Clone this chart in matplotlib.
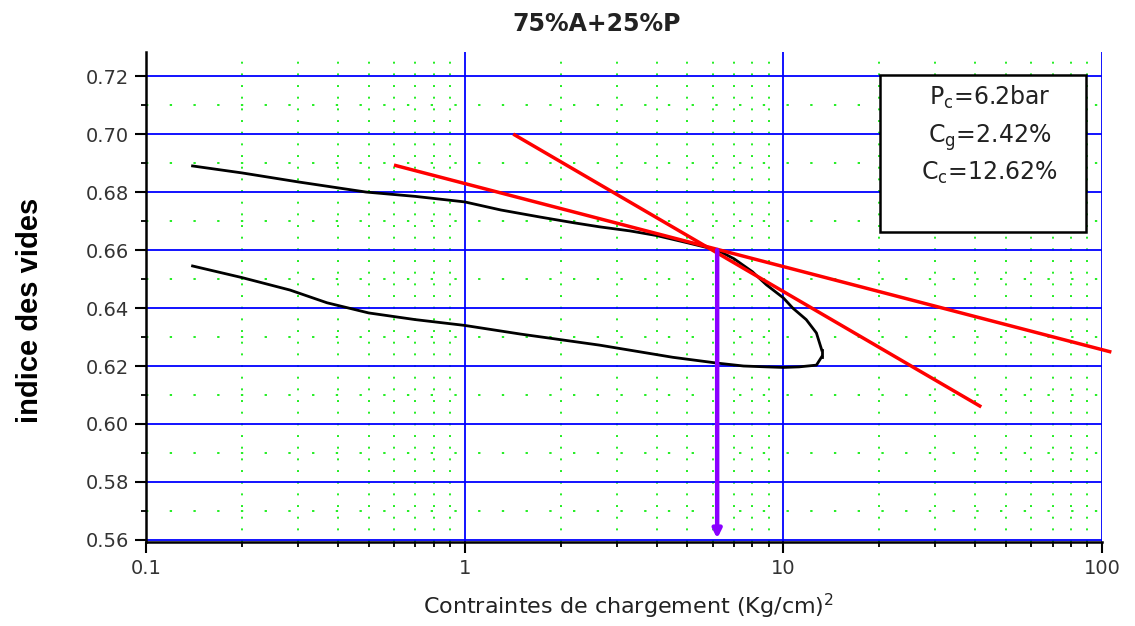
import numpy as np
import matplotlib
matplotlib.use("Agg")
import matplotlib.pyplot as plt
from matplotlib.ticker import LogLocator, FixedLocator, NullFormatter
from matplotlib.patches import Rectangle

# ---- data ----
title = "75%A+25%P"
xlabel = "Contraintes de chargement (Kg/cm)$^\\mathregular{2}$"
ylabel = "indice des vides"

# loading branch (upper)
x_load = [0.14, 0.2, 0.3, 0.49, 0.7, 1.0, 1.3, 1.72, 2.2, 2.65, 3.3, 4.0, 5.0, 6.2, 7.0, 8.0,
          8.85, 10.0, 10.7, 11.8, 12.7, 13.2]
e_load = [0.689, 0.6866, 0.6835, 0.680, 0.6785, 0.6766, 0.6738, 0.6714, 0.6694, 0.668, 0.6666,
          0.665, 0.6625, 0.660, 0.657, 0.6525, 0.648, 0.6435, 0.640, 0.636, 0.6314, 0.6255]
# unloading branch (lower)
x_unload = [13.2, 12.7, 11.2, 10.0, 8.85, 7.5, 6.2, 4.5, 2.65, 1.5, 1.0, 0.7, 0.5, 0.37, 0.283, 0.2, 0.14]
e_unload = [0.6232, 0.6203, 0.6197, 0.6195, 0.6197, 0.620, 0.621, 0.623, 0.6272, 0.631, 0.634,
            0.636, 0.6383, 0.6418, 0.6462, 0.6505, 0.6545]

# tangent lines
x_cg = [0.6, 107.0]
e_cg = [0.6893, 0.6248]
x_cc = [1.42, 41.8]
e_cc = [0.700, 0.6059]

# preconsolidation pressure
pc = 6.2
e_pc = 0.660
e_arrow_end = 0.5605

y_ticks = [0.56, 0.58, 0.60, 0.62, 0.64, 0.66, 0.68, 0.70, 0.72]
y_minor = [0.57, 0.59, 0.61, 0.63, 0.65, 0.67, 0.69, 0.71]
x_ticks = [0.1, 1, 10, 100]
x_ticklabels = ["0.1", "1", "10", "100"]

box_lines = [r"P$_\mathregular{c}$=6.2bar", r"C$_\mathregular{g}$=2.42%", r"C$_\mathregular{c}$=12.62%"]

# ---- figure ----
W, H = 1135, 626
fig = plt.figure(figsize=(W / 100, H / 100), dpi=100)
fig.patch.set_facecolor("white")
L, R, T, B = 146, 1102, 52, 542
ax = fig.add_axes([L / W, (H - B) / H, (R - L) / W, (B - T) / H])

ax.set_xscale("log")
ax.set_xlim(0.1, 100)
ax.set_ylim(0.5593, 0.7283)

ax.set_xticks(x_ticks)
ax.set_xticklabels(x_ticklabels)
ax.xaxis.set_minor_locator(LogLocator(base=10, subs=np.arange(2, 10)))
ax.xaxis.set_minor_formatter(NullFormatter())
ax.set_yticks(y_ticks)
ax.set_yticklabels(["%.2f" % v for v in y_ticks])
ax.yaxis.set_minor_locator(FixedLocator(y_minor))

ax.tick_params(axis="both", which="major", labelsize=14, labelcolor="#333333",
               length=8, width=1.5, direction="out", pad=4)
ax.tick_params(axis="both", which="minor", length=3.5, width=1.3, direction="out")

for s in ["top", "right"]:
    ax.spines[s].set_visible(False)
for s in ["left", "bottom"]:
    ax.spines[s].set_linewidth(1.8)
    ax.spines[s].set_color("black")

ax.set_axisbelow(True)
ax.grid(which="major", color="#0000ff", lw=1.3)
ax.grid(which="minor", axis="x", color="#22ee22", lw=1.4, ls=(0, (1, 5)))
ax.grid(which="minor", axis="y", color="#22ee22", lw=1.4, ls=(0, (1.2, 11)))

# curves
ax.plot(x_load, e_load, color="black", lw=2.0, zorder=3)
ax.plot(x_unload, e_unload, color="black", lw=2.0, zorder=3)
ax.plot([x_load[-1], x_unload[0]], [e_load[-1], e_unload[0]], color="black", lw=2.0, zorder=3)

ax.plot(x_cg, e_cg, color="#ff0000", lw=2.5, zorder=4, clip_on=False, solid_capstyle="butt")
ax.plot(x_cc, e_cc, color="#ff0000", lw=2.5, zorder=4, clip_on=False, solid_capstyle="butt")

ax.annotate("", xy=(pc, e_arrow_end), xytext=(pc, e_pc),
            arrowprops=dict(arrowstyle="-|>,head_length=0.5,head_width=0.25",
                            color="#8a00ff", lw=3.2, shrinkA=0, shrinkB=0),
            zorder=5)

# text box
bx0, bx1, by0, by1 = 880, 1086, 75, 232
ax.add_patch(Rectangle(((bx0 - L) / (R - L), (B - by1) / (B - T)),
                       (bx1 - bx0) / (R - L), (by1 - by0) / (B - T),
                       transform=ax.transAxes, facecolor="white", edgecolor="black",
                       lw=1.8, zorder=6, clip_on=False))
for txt, yb in zip(box_lines, [105, 143, 180]):
    ax.text((990 - L) / (R - L), (B - yb) / (B - T), txt, transform=ax.transAxes,
            ha="center", va="baseline", fontsize=17, color="#222222", zorder=7)

fig.text(597 / W, 1 - 24 / H, title, ha="center", va="center", fontsize=17,
         fontweight="bold", color="#222222")
fig.text(629 / W, 1 - 606 / H, xlabel, ha="center", va="center", fontsize=16,
         color="#222222")
fig.text(30 / W, 1 - 310 / H, ylabel, ha="center", va="center", rotation=90,
         fontsize=21, fontweight="bold", family=["Liberation Sans", "DejaVu Sans"],
         color="black")

fig.savefig("out.png", dpi=100)
